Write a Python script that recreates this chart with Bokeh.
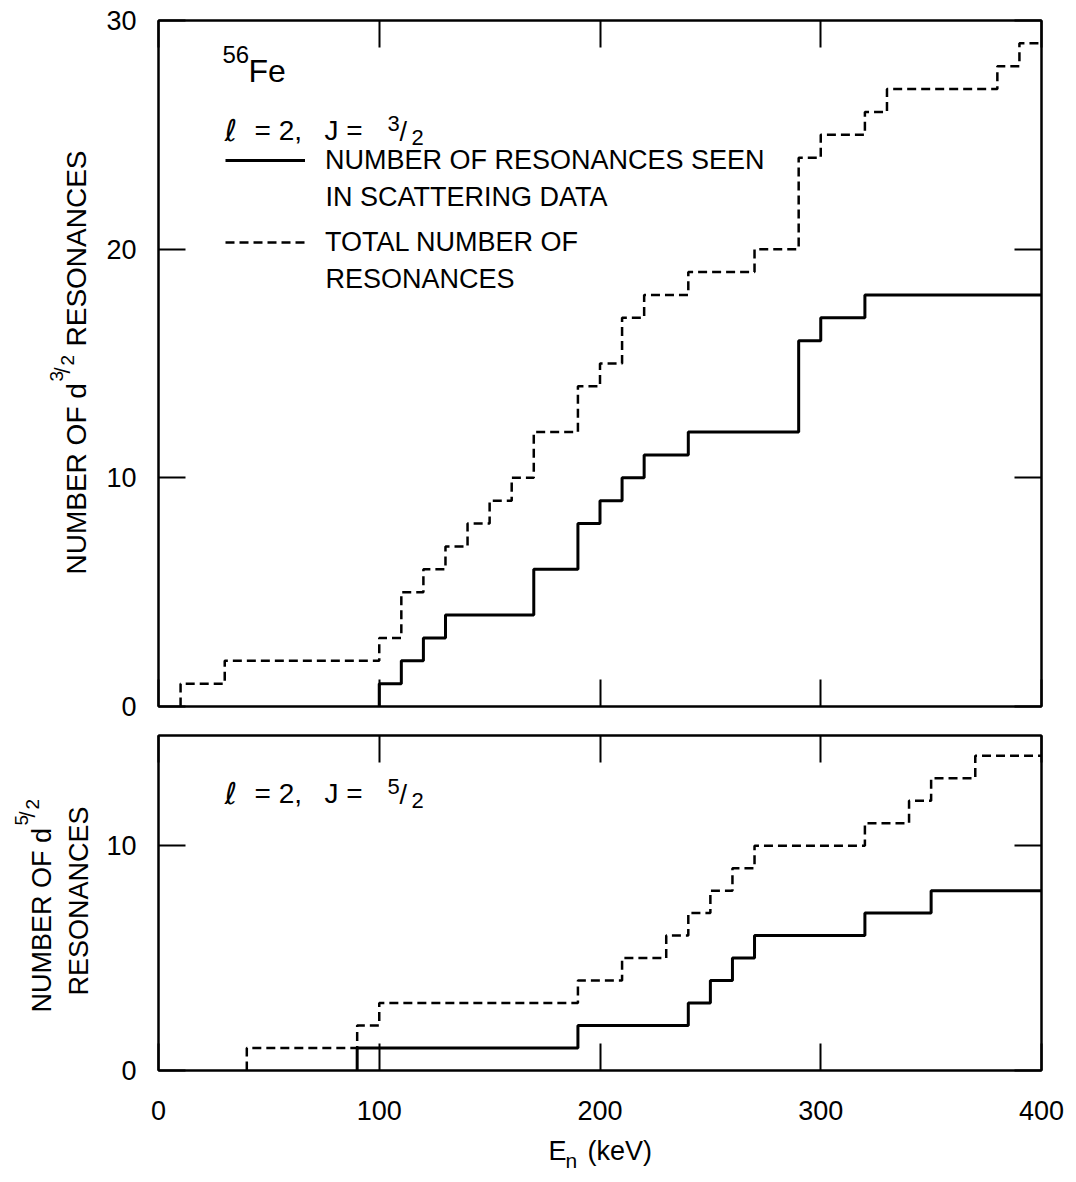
import math
from bokeh.plotting import figure
from bokeh.models import Range1d, LinearAxis, FixedTicker, Label, Legend, LegendItem
from bokeh.layouts import column, row
from bokeh.embed import file_html
from bokeh.resources import INLINE

FONT = "Liberation Sans"

# ---------------- data ----------------
E_MAX = 400
X_TICKS = [0, 100, 200, 300, 400]
TOP_Y_TICKS = [0, 10, 20, 30]
BOT_Y_TICKS = [0, 10]
TOP_Y_MAX = 30
BOT_Y_MAX = 14.9

# l = 2, J = 3/2  (step energies in keV, cumulative counts)
top_seen_E = [100, 110, 120, 130, 170, 190, 200, 210, 220, 240, 290, 300, 320]
top_seen_N = [1, 2, 3, 4, 6, 8, 9, 10, 11, 12, 16, 17, 18]
top_total_E = [10, 30, 100, 110, 120, 130, 140, 150, 160, 170, 190, 200, 210, 220,
               240, 270, 290, 300, 320, 330, 380, 390]
top_total_N = [1, 2, 3, 5, 6, 7, 8, 9, 10, 12, 14, 15, 17, 18,
               19, 20, 24, 25, 26, 27, 28, 29]

# l = 2, J = 5/2
bot_seen_E = [90, 190, 240, 250, 260, 270, 320, 350]
bot_seen_N = [1, 2, 3, 4, 5, 6, 7, 8]
bot_total_E = [40, 90, 100, 190, 210, 230, 240, 250, 260, 270, 320, 340, 350, 370]
bot_total_N = [1, 2, 3, 4, 5, 6, 7, 8, 9, 10, 11, 12, 13, 14]


def staircase(E, N):
    xs = [E[0]] + list(E) + [E_MAX]
    ys = [0] + list(N) + [N[-1]]
    return xs, ys


def make_fig(frame_h, ymax, yticks, show_x_labels, border_top, border_bottom):
    p = figure(frame_width=883, frame_height=frame_h,
               x_range=Range1d(0, E_MAX), y_range=Range1d(0, ymax),
               x_axis_type=None, y_axis_type=None,
               output_backend="svg", toolbar_location=None,
               min_border_left=58, min_border_right=35,
               min_border_top=border_top, min_border_bottom=border_bottom)
    p.outline_line_color = "black"
    p.outline_line_width = 2
    p.background_fill_color = "white"
    p.border_fill_color = "white"
    for place, ticks, show, standoff in [("below", X_TICKS, show_x_labels, 30),
                                         ("above", X_TICKS, False, 0),
                                         ("left", yticks, True, 22),
                                         ("right", yticks, False, 0)]:
        ax = LinearAxis(ticker=FixedTicker(ticks=ticks))
        ax.major_tick_in = 27
        ax.major_tick_out = 0
        ax.minor_tick_in = 0
        ax.minor_tick_out = 0
        ax.major_tick_line_width = 2
        ax.major_tick_line_color = "black"
        ax.axis_line_width = 2
        ax.axis_line_color = "black"
        if show:
            ax.major_label_text_font = FONT
            ax.major_label_text_font_size = "27px"
            ax.major_label_text_color = "black"
            ax.major_label_standoff = standoff
        else:
            ax.major_label_text_font_size = "1px"
            ax.major_label_text_color = None
            ax.major_label_standoff = 0
        p.add_layout(ax, place)
    return p


def text_fig(w, h):
    f = figure(width=w, height=h, x_axis_type=None, y_axis_type=None,
               output_backend="svg", toolbar_location=None,
               min_border=0, outline_line_color=None)
    f.background_fill_color = "white"
    f.border_fill_color = "white"
    return f


def txt(p, s, sx, sy, size, angle=0.0, align="left", baseline="alphabetic", font=FONT):
    p.add_layout(Label(x=sx, y=sy, x_units="screen", y_units="screen", text=s,
                       text_font=font, text_font_size=f"{size}px", text_color="black",
                       angle=angle, text_align=align, text_baseline=baseline))


def frac(p, num, den, sx, sy, size, rotated=False):
    # offsets: u along the reading direction, v towards the text's "up"
    if rotated:
        parts = [(num, 0, 20, size), ("/", 8, 14, int(size * 1.2)), (den, 16, 9, size)]
    else:
        parts = [(num, 0, 7, size), ("/", 12, -1, int(size * 1.25)), (den, 24, -7, size)]
    for s, u, v, sz in parts:
        if rotated:
            txt(p, s, sx - v, sy + u, sz, angle=math.pi / 2)
        else:
            txt(p, s, sx + u, sy + v, sz)


# ---------------- top panel ----------------
p1 = make_fig(686, TOP_Y_MAX, TOP_Y_TICKS, False, 20, 18)
xs, ys = staircase(top_seen_E, top_seen_N)
r_seen = p1.step(xs, ys, mode="after", line_color="black", line_width=3)
xs, ys = staircase(top_total_E, top_total_N)
r_total = p1.step(xs, ys, mode="after", line_color="black", line_width=2.5,
                  line_dash="9 5")

legend = Legend(items=[LegendItem(label="NUMBER OF RESONANCES SEEN", renderers=[r_seen]),
                       LegendItem(label="TOTAL NUMBER OF", renderers=[r_total])],
                location=(67, 447), glyph_width=80, glyph_height=34, label_height=34,
                label_standoff=20, spacing=48, padding=0, margin=0,
                border_line_color=None, background_fill_alpha=0,
                label_text_font=FONT, label_text_font_size="27px",
                label_text_color="black")
p1.add_layout(legend)
txt(p1, "IN SCATTERING DATA", 167, 510, 27, baseline="middle")
txt(p1, "RESONANCES", 167, 428, 27, baseline="middle")

txt(p1, "56", 64, 652, 24)
txt(p1, "Fe", 90, 636, 32)
txt(p1, "\u2113", 66, 576, 30, font="DejaVu Sans")
txt(p1, "= 2,", 96, 576, 28)
txt(p1, "J =", 166, 576, 28)
frac(p1, "3", "2", 229, 576, 22)

# y label of the top panel (own narrow canvas; its frame is aligned with p1's frame)
lab1 = text_fig(100, 720)
txt(lab1, "NUMBER OF d", 76, 128, 28, angle=math.pi / 2)
frac(lab1, "3", "2", 76, 321, 19, rotated=True)
txt(lab1, "RESONANCES", 76, 356, 28, angle=math.pi / 2)

# ---------------- bottom panel ----------------
p2 = make_fig(335, BOT_Y_MAX, BOT_Y_TICKS, True, 11, 64)
xs, ys = staircase(bot_seen_E, bot_seen_N)
p2.step(xs, ys, mode="after", line_color="black", line_width=3)
xs, ys = staircase(bot_total_E, bot_total_N)
p2.step(xs, ys, mode="after", line_color="black", line_width=2.5, line_dash="9 5")

txt(p2, "\u2113", 66, 277, 30, font="DejaVu Sans")
txt(p2, "= 2,", 96, 277, 28)
txt(p2, "J =", 166, 277, 28)
frac(p2, "5", "2", 229, 277, 22)

# y label of the bottom panel (frame aligned with p2's frame)
lab2 = text_fig(100, 410)
txt(lab2, "NUMBER OF d", 41, 58, 27, angle=math.pi / 2)
frac(lab2, "5", "2", 41, 245, 19, rotated=True)
txt(lab2, "RESONANCES", 78, 75, 27, angle=math.pi / 2)

# x label (page y 1134..1182)
xlab = text_fig(1076, 48)
txt(xlab, "E", 548, 32, 27)
txt(xlab, "n", 565, 22, 21)
txt(xlab, "(keV)", 587, 32, 27)

layout = column(row(lab1, p1, spacing=0), row(lab2, p2, spacing=0), xlab, spacing=0)
open("out.html", "w").write(file_html(layout, INLINE))
